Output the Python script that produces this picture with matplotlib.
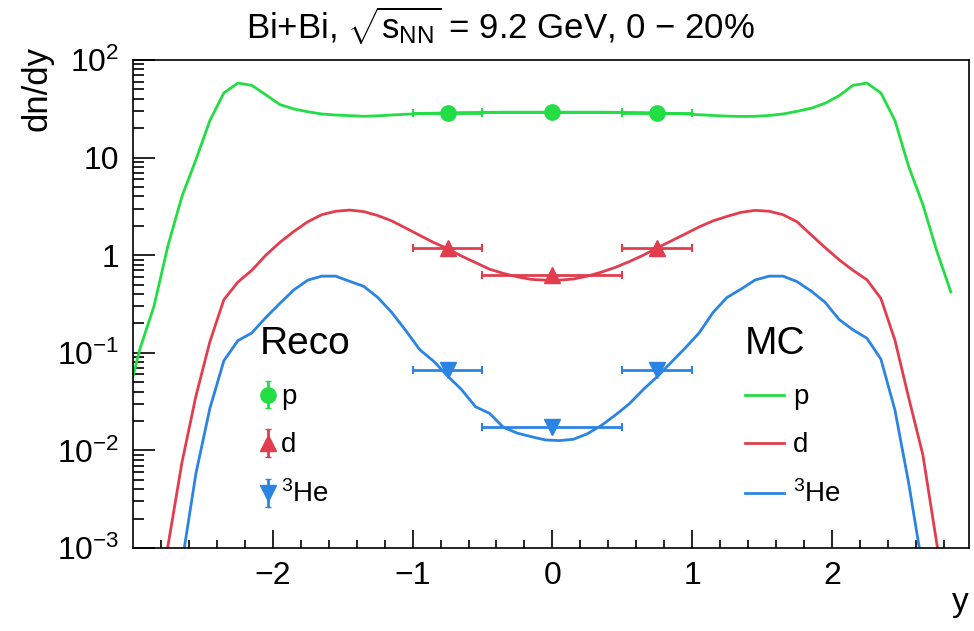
import numpy as np
import matplotlib
matplotlib.use("Agg")
import matplotlib.pyplot as plt

plt.rcParams["font.family"] = ["Liberation Sans", "DejaVu Sans"]
plt.rcParams["mathtext.fontset"] = "custom"
plt.rcParams["mathtext.rm"] = "Liberation Sans"
plt.rcParams["mathtext.it"] = "Liberation Sans:italic"
plt.rcParams["mathtext.bf"] = "Liberation Sans:bold"

GREEN = "#22dd44"
RED = "#e23d4f"
BLUE = "#2b84e4"

# MC curves, rapidity bin centres
y_mc = [-3.05, -2.95, -2.85, -2.75, -2.65, -2.55, -2.45, -2.35, -2.25, -2.15,
        -2.05, -1.95, -1.85, -1.75, -1.65, -1.55, -1.45, -1.35, -1.25, -1.15,
        -1.05, -0.95, -0.85, -0.75, -0.65, -0.55, -0.45, -0.35, -0.25, -0.15,
        -0.05, 0.05, 0.15, 0.25, 0.35, 0.45, 0.55, 0.65, 0.75, 0.85,
        0.95, 1.05, 1.15, 1.25, 1.35, 1.45, 1.55, 1.65, 1.75, 1.85,
        1.95, 2.05, 2.15, 2.25, 2.35, 2.45, 2.55, 2.65, 2.75, 2.85]

mc_p = [0.03, 0.11, 0.30, 1.25, 4.0, 9.5, 24, 46, 58, 55,
        44, 35, 31.5, 29.5, 28, 27.3, 26.9, 26.5, 26.8, 27.3,
        27.8, 28.2, 28.5, 28.7, 28.9, 29.0, 29.1, 29.2, 29.2, 29.2,
        29.2, 29.2, 29.2, 29.2, 29.2, 29.1, 29.0, 28.9, 28.6, 28.3,
        28.0, 27.5, 27.0, 26.6, 26.4, 26.5, 27.0, 28.0, 29.8, 32,
        36, 43, 55, 58, 46, 24, 8.0, 3.3, 1.1, 0.42]

mc_d = [np.nan, np.nan, 0.0002, 0.00105, 0.0075, 0.036, 0.13, 0.35, 0.53, 0.70,
        1.0, 1.35, 1.75, 2.2, 2.6, 2.82, 2.9, 2.8, 2.55, 2.25,
        1.9, 1.6, 1.35, 1.17, 0.98, 0.84, 0.72, 0.65, 0.60, 0.565,
        0.555, 0.555, 0.57, 0.61, 0.67, 0.75, 0.86, 1.0, 1.19, 1.40,
        1.65, 1.95, 2.25, 2.5, 2.75, 2.88, 2.82, 2.6, 2.2, 1.62,
        1.2, 0.9, 0.7, 0.56, 0.36, 0.135, 0.034, 0.009, 0.0011, 0.0002]

mc_he3 = [np.nan, np.nan, np.nan, 0.0001, 0.0007, 0.0058, 0.027, 0.083, 0.133, 0.16,
          0.23, 0.32, 0.44, 0.555, 0.61, 0.61, 0.54, 0.48, 0.37, 0.26,
          0.17, 0.108, 0.082, 0.058, 0.042, 0.028, 0.024, 0.0172, 0.015, 0.0138,
          0.0128, 0.0126, 0.013, 0.0148, 0.018, 0.023, 0.030, 0.042, 0.057, 0.08,
          0.112, 0.16, 0.26, 0.37, 0.45, 0.557, 0.61, 0.61, 0.536, 0.43,
          0.33, 0.22, 0.172, 0.141, 0.086, 0.026, 0.0045, 0.0006, 0.0001, np.nan]

# reconstructed points
y_reco = [-0.75, 0.0, 0.75]
y_reco_err = [0.25, 0.5, 0.25]
reco_p = [28.5, 29.0, 28.5]
reco_d = [1.18, 0.63, 1.19]
reco_he3 = [0.066, 0.0174, 0.066]

fig = plt.figure(figsize=(9.74, 6.31), dpi=100)
ax = fig.add_axes([133 / 974, 1 - 548 / 631, 836 / 974, 488 / 631])

lw = 2.0
l_p, = ax.plot(y_mc, mc_p, color=GREEN, lw=lw)
l_d, = ax.plot(y_mc, mc_d, color=RED, lw=lw)
l_he, = ax.plot(y_mc, mc_he3, color=BLUE, lw=lw)

ebkw = dict(linestyle="none", elinewidth=2.0, capsize=3, capthick=1.5)
ax.errorbar(y_reco, reco_p, xerr=y_reco_err, fmt="o", color=GREEN, ms=11, **ebkw)
ax.errorbar(y_reco, reco_d, xerr=y_reco_err, fmt="^", color=RED, ms=11, **ebkw)
ax.errorbar(y_reco, reco_he3, xerr=y_reco_err, fmt="v", color=BLUE, ms=11, **ebkw)

ax.set_yscale("log")
ax.set_xlim(-3.0, 2.98)
ax.set_ylim(1e-3, 1e2)

ax.set_xticks([-2, -1, 0, 1, 2])
ax.set_xticklabels(["\u22122", "\u22121", "0", "1", "2"])
ax.set_xticks(np.arange(-2.8, 2.9, 0.2), minor=True)
ax.set_yticks([1e-3, 1e-2, 1e-1, 1, 10, 1e2])
ax.set_yticklabels([r"$10^{-3}$", r"$10^{-2}$", r"$10^{-1}$", "1", "10", r"$10^{2}$"])
ax.tick_params(axis="both", which="both", direction="in", labelsize=23, width=1.2)
ax.tick_params(axis="x", which="major", length=13, pad=9)
ax.tick_params(axis="x", which="minor", length=6)
ax.tick_params(axis="y", which="major", length=16, pad=10)
ax.tick_params(axis="y", which="minor", length=8)
for s in ax.spines.values():
    s.set_linewidth(1.2)

ax.set_ylabel("dn/dy", fontsize=25, loc="top")
ax.yaxis.set_label_coords(-0.095, 1.028)
ax.set_xlabel("y", fontsize=24, loc="right")
ax.xaxis.set_label_coords(1.0, -0.08)

fig.text(500 / 974, 1 - 26 / 631,
         r"Bi+Bi, $\sqrt{\mathrm{s}_{\mathrm{NN}}}$ = 9.2 GeV, 0 $-$ 20%",
         ha="center", va="center", fontsize=25)

# legends
h_p = ax.errorbar([np.nan], [np.nan], yerr=[1], fmt="o", color=GREEN, ms=11,
                  elinewidth=2, capsize=2)
h_d = ax.errorbar([np.nan], [np.nan], yerr=[1], fmt="^", color=RED, ms=11,
                  elinewidth=2, capsize=2)
h_he = ax.errorbar([np.nan], [np.nan], yerr=[1], fmt="v", color=BLUE, ms=11,
                   elinewidth=2, capsize=2)

labels = ["p", "d", r"$^{3}$He"]
leg1 = ax.legend([h_p, h_d, h_he], labels, title="Reco", title_fontsize=28,
                 fontsize=20, frameon=False, loc="upper left",
                 bbox_to_anchor=(260 / 974, 1 - 326 / 631),
                 bbox_transform=fig.transFigure, borderpad=0, borderaxespad=0,
                 handlelength=0.6, handletextpad=0.15, labelspacing=0.8,
                 alignment="left")
ax.add_artist(leg1)
ax.legend([l_p, l_d, l_he], labels, title="MC", title_fontsize=28,
          fontsize=20, frameon=False, loc="upper left",
          bbox_to_anchor=(745 / 974, 1 - 326 / 631),
          bbox_transform=fig.transFigure, borderpad=0, borderaxespad=0,
          handlelength=1.4, handletextpad=0.32, labelspacing=0.8,
          alignment="left")

fig.savefig("out.png", dpi=100)
